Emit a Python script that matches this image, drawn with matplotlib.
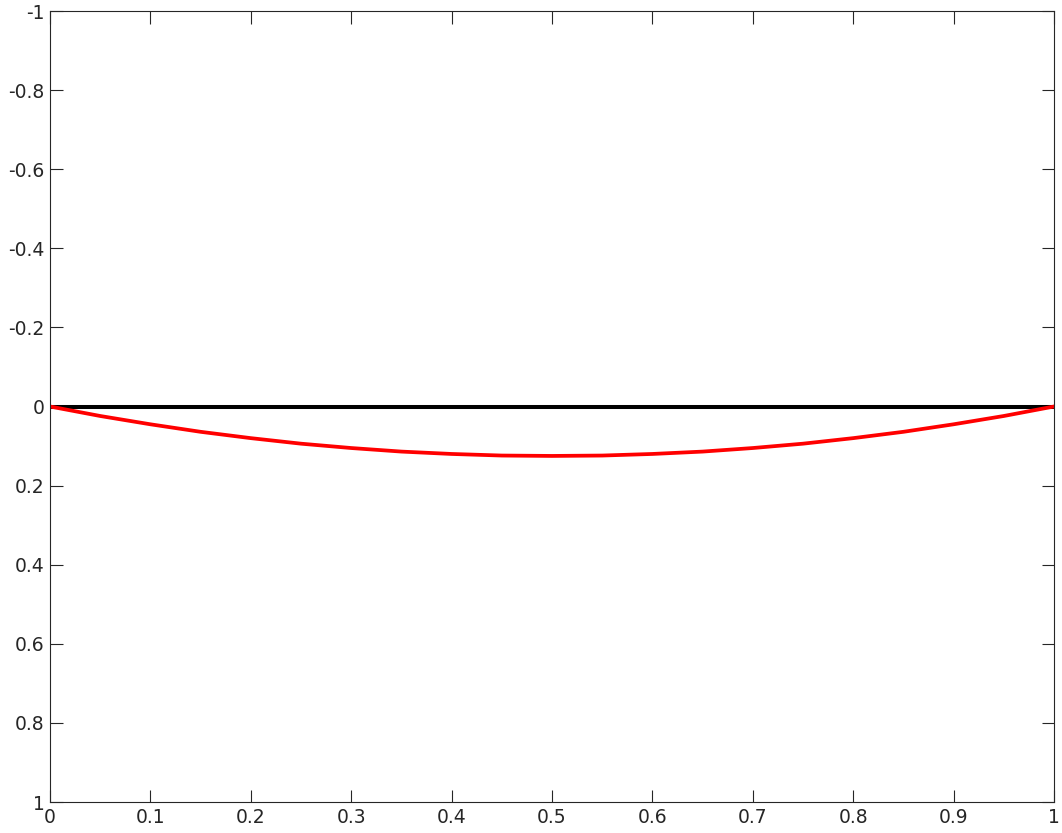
import numpy as np
import matplotlib
matplotlib.use('Agg')
import matplotlib.pyplot as plt

plt.rcParams['font.family'] = 'DejaVu Sans'
plt.rcParams['axes.unicode_minus'] = False

# values
x = [0.0, 0.05, 0.1, 0.15, 0.2, 0.25, 0.3, 0.35, 0.4, 0.45, 0.5,
     0.55, 0.6, 0.65, 0.7, 0.75, 0.8, 0.85, 0.9, 0.95, 1.0]
y_red = [0.0, 0.024, 0.045, 0.064, 0.08, 0.094, 0.105, 0.114, 0.12, 0.124, 0.125,
         0.124, 0.12, 0.114, 0.105, 0.094, 0.08, 0.064, 0.045, 0.024, 0.0]
y_black = [0.0] * len(x)

xticks = [0, 0.1, 0.2, 0.3, 0.4, 0.5, 0.6, 0.7, 0.8, 0.9, 1]
xtick_labels = ['0', '0.1', '0.2', '0.3', '0.4', '0.5', '0.6', '0.7', '0.8', '0.9', '1']
yticks = [-1, -0.8, -0.6, -0.4, -0.2, 0, 0.2, 0.4, 0.6, 0.8, 1]
ytick_labels = ['-1', '-0.8', '-0.6', '-0.4', '-0.2', '0', '0.2', '0.4', '0.6', '0.8', '1']

fig = plt.figure(figsize=(10.62, 8.33), dpi=100)
ax = fig.add_axes([50 / 1062, 31 / 833, 1004 / 1062, 791 / 833])

ax.plot(x, y_black, color='black', linewidth=2.9)
ax.plot(x, y_red, color='red', linewidth=2.7)

ax.set_xlim(0, 1)
ax.set_ylim(1, -1)
ax.set_xticks(xticks)
ax.set_xticklabels(xtick_labels)
ax.set_yticks(yticks)
ax.set_yticklabels(ytick_labels)

gray = '#262626'
for s in ax.spines.values():
    s.set_color(gray)
    s.set_linewidth(0.8)
ax.tick_params(direction='in', length=9, width=0.8, color=gray, labelcolor=gray,
               labelsize=13.5, top=True, right=True, pad=4)

fig.savefig('out.png', dpi=100)
